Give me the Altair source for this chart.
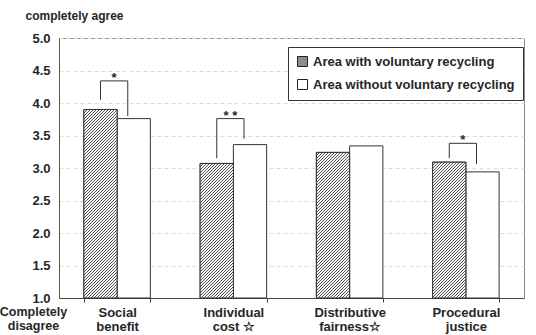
import altair as alt
import pandas as pd

# ---------------- data ----------------
categories = ["Social\nbenefit", "Individual\ncost ☆", "Distributive\nfairness☆", "Procedural\njustice"]
series = ["Area with voluntary recycling", "Area without voluntary recycling"]
with_values = [3.90, 3.07, 3.24, 3.09]
without_values = [3.76, 3.36, 3.34, 2.94]

sig_categories = [categories[0], categories[1], categories[3]]
sig_marks = ["*", "* *", "*"]
sig_left_end = [4.05, 3.15, 3.15]
sig_right_end = [3.80, 3.45, 3.06]
sig_top = [4.34, 3.76, 3.38]

y_ticks = [1.0, 1.5, 2.0, 2.5, 3.0, 3.5, 4.0, 4.5, 5.0]

# ---------------- layout / style ----------------
FONT = "Liberation Sans"
TXT = "#262626"
W, H = 465, 260
Y_MIN, Y_MAX = 1.0, 5.0
PAD_IN = 0.428
BAND = W / len(categories) * (1 - PAD_IN)
BAR_W = BAND / 2
DARK, LIGHT = "#555555", "#f6f6f6"

bars_df = pd.DataFrame({
    "Category": categories * 2,
    "Series": [series[0]] * len(categories) + [series[1]] * len(categories),
    "Value": with_values + without_values,
})
sig_df = pd.DataFrame({
    "Category": sig_categories,
    "mark": sig_marks,
    "left_end": sig_left_end,
    "right_end": sig_right_end,
    "top": sig_top,
})


def hatch(value, period=3.0, dark=0.38):
    """diagonal stripes as a bbox-relative linear gradient (45 degree lines)"""
    w = BAR_W
    h = (value - Y_MIN) / (Y_MAX - Y_MIN) * H
    dt = period * w / (w * w + h * h)
    tmax = (w + h) * w / (w * w + h * h)
    stops = []
    k = 0
    while k * dt < 1 and k * dt <= tmax + dt:
        t0 = k * dt
        t1 = min(t0 + dark * dt, 1)
        t2 = min(t0 + dt, 1)
        stops += [{"offset": t0, "color": DARK}, {"offset": t1, "color": DARK},
                  {"offset": t1, "color": LIGHT}, {"offset": t2, "color": LIGHT}]
        k += 1
    return {"gradient": "linear", "x1": 0, "y1": 0, "x2": 1, "y2": h / w, "stops": stops}


x_scale = alt.Scale(paddingInner=PAD_IN, paddingOuter=PAD_IN / 2)
y_scale = alt.Scale(domain=[Y_MIN, Y_MAX], nice=False, zero=False)

x_axis = alt.Axis(
    labelAngle=0, labelFont=FONT, labelFontSize=13, labelFontWeight="bold", labelColor=TXT,
    labelPadding=4, labelBaseline="top", labelLineHeight=14,
    labelExpr="split(datum.label, '\\n')",
    tickBand="extent", tickSize=4, tickColor="#444", domainColor="#444",
    title=["Completely", "disagree"], titleAngle=0, titleX=-26, titleY=7,
    titleAlign="center", titleBaseline="top", titleFont=FONT, titleFontSize=12.5,
    titleFontWeight="bold", titleColor=TXT, titleLineHeight=14,
)
y_axis = alt.Axis(
    values=y_ticks, format=".1f", labelFont=FONT, labelFontSize=13, labelFontWeight="bold",
    labelColor=TXT, labelPadding=9, ticks=False, domainColor="#555",
    grid=True, gridColor="#dcdcdc", gridDash=[4, 3],
    title="completely agree", titleAngle=0, titleAlign="left", titleBaseline="middle",
    titleX=-34, titleY=-23, titleFont=FONT, titleFontSize=12, titleFontWeight="bold",
    titleColor=TXT,
)

X = alt.X("Category:N", sort=categories, scale=x_scale, axis=x_axis)
XO = alt.XOffset("Series:N", sort=series, scale=alt.Scale(domain=series))
Y = alt.Y("Value:Q", scale=y_scale, axis=y_axis)

base = alt.Chart(bars_df).mark_bar(stroke="#333", strokeWidth=1).encode(
    x=X, xOffset=XO, y=Y, y2=alt.datum(Y_MIN),
    fill=alt.Fill("Series:N", sort=series,
                  scale=alt.Scale(domain=series, range=["#8c8c8c", "#ffffff"]),
                  legend=alt.Legend(title=None, orient="none", legendX=229, legendY=9,
                                    symbolType="square", symbolSize=100,
                                    symbolStrokeColor="#222", symbolStrokeWidth=1,
                                    labelFont=FONT, labelFontSize=13, labelFontWeight="bold",
                                    labelColor=TXT, labelOffset=4, labelLimit=400,
                                    strokeColor="#333", fillColor="white",
                                    padding=8, rowPadding=8)),
)

layers = [base]
for cat, val in zip(categories, with_values):
    layers.append(
        alt.Chart(bars_df).transform_filter(
            (alt.datum.Category == cat) & (alt.datum.Series == series[0])
        ).mark_bar(fill=hatch(val), stroke="#333", strokeWidth=1).encode(
            x=X, xOffset=XO, y=Y, y2=alt.datum(Y_MIN)
        )
    )

BP_L, BP_R = 0.25, 0.66
sig = alt.Chart(sig_df)
rule_style = dict(color="#333", strokeWidth=1)
layers.append(sig.mark_rule(**rule_style).encode(
    x=alt.X("Category:N", sort=categories, scale=x_scale, axis=x_axis, bandPosition=BP_L),
    y=alt.Y("left_end:Q", scale=y_scale, axis=y_axis), y2="top:Q"))
layers.append(sig.mark_rule(**rule_style).encode(
    x=alt.X("Category:N", sort=categories, scale=x_scale, axis=x_axis, bandPosition=BP_R),
    y=alt.Y("right_end:Q", scale=y_scale, axis=y_axis), y2="top:Q"))
layers.append(sig.mark_rule(**rule_style).encode(
    x=alt.X("Category:N", sort=categories, scale=x_scale, axis=x_axis, bandPosition=BP_L),
    x2=alt.X2("Category:N", bandPosition=BP_R),
    y=alt.Y("top:Q", scale=y_scale, axis=y_axis)))
layers.append(sig.mark_text(font=FONT, fontSize=13, fontWeight="bold", color=TXT,
                            baseline="alphabetic", dy=1).encode(
    x=alt.X("Category:N", sort=categories, scale=x_scale, axis=x_axis,
            bandPosition=(BP_L + BP_R) / 2),
    y=alt.Y("top:Q", scale=y_scale, axis=y_axis), text="mark:N"))

chart = alt.layer(*layers).properties(
    width=W, height=H,
    autosize=alt.AutoSizeParams(type="none"),
    padding={"left": 59, "top": 38, "right": 536 - 59 - W, "bottom": 335 - 38 - H},
    background="white",
).configure_view(stroke="#8a8a8a", strokeWidth=1)

chart.save("out.html", embed_options={"renderer": "svg", "actions": False})
